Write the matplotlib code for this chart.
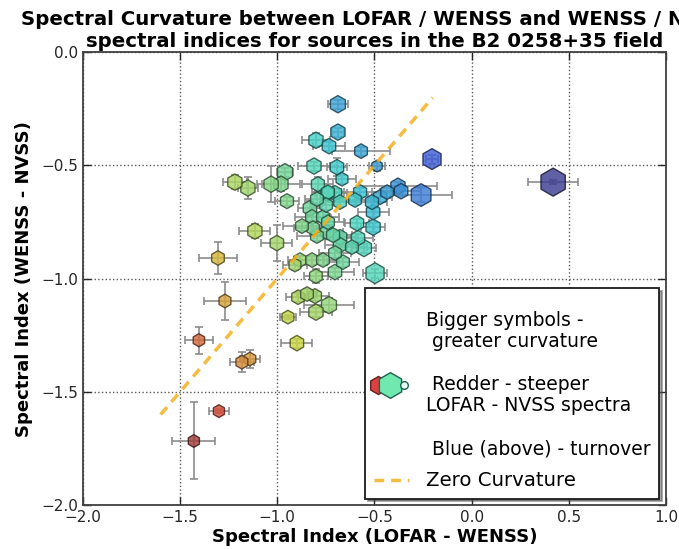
import numpy as np
import matplotlib
matplotlib.use("Agg")
import matplotlib.pyplot as plt
from matplotlib.lines import Line2D
from matplotlib.legend_handler import HandlerBase
from matplotlib.colors import Normalize

# ---- data ----
alpha_lofar_wenss = [
    -0.688, -0.688, -0.801, -0.734, -0.569, -0.487, -0.811, -0.693, -0.667, -0.960,
    -1.218, -1.151, -1.032, -0.981, -0.791, -0.950, -0.796, -0.744, -0.703, -0.749,
    -0.832, -0.821, -0.765, -0.873, -0.816, -0.739, -1.115, -1.002, -0.796, -0.744,
    -0.713, -0.677, -0.677, -0.590, -0.507, -0.507, -0.585, -0.554, -0.662, -0.703,
    -0.497, -0.765, -0.821, -0.883, -0.909, -1.305, -0.801, -1.269, -1.403, -1.182,
    -1.141, -1.300, -1.429, -0.893, -0.847, -0.806, -0.734, -0.801, -0.945, -0.899,
    -0.204, 0.419, -0.260, -0.379, -0.363, -0.435, -0.471, -0.513, -0.574, -0.600,
    -0.677, -0.739, -0.616, -0.703,
]
alpha_wenss_nvss = [
    -0.230, -0.353, -0.389, -0.415, -0.437, -0.503, -0.503, -0.508, -0.561, -0.530,
    -0.574, -0.600, -0.583, -0.583, -0.583, -0.658, -0.649, -0.623, -0.623, -0.675,
    -0.689, -0.728, -0.728, -0.768, -0.777, -0.751, -0.790, -0.843, -0.812, -0.795,
    -0.808, -0.817, -0.852, -0.755, -0.773, -0.706, -0.821, -0.865, -0.927, -0.971,
    -0.976, -0.918, -0.918, -0.918, -0.940, -0.909, -0.989, -1.099, -1.272, -1.369,
    -1.355, -1.585, -1.717, -1.082, -1.068, -1.077, -1.117, -1.148, -1.170, -1.285,
    -0.472, -0.574, -0.631, -0.592, -0.614, -0.618, -0.640, -0.662, -0.618, -0.653,
    -0.662, -0.618, -0.861, -0.887,
]
err_lofar_wenss = [
    0.05, 0.03, 0.07, 0.08, 0.15, 0.04, 0.08, 0.05, 0.07, 0.04,
    0.06, 0.05, 0.07, 0.10, 0.08, 0.06, 0.06, 0.06, 0.06, 0.07,
    0.06, 0.09, 0.08, 0.10, 0.10, 0.08, 0.08, 0.08, 0.10, 0.08,
    0.10, 0.08, 0.08, 0.06, 0.06, 0.08, 0.08, 0.06, 0.08, 0.10,
    0.06, 0.08, 0.06, 0.06, 0.06, 0.10, 0.06, 0.11, 0.07, 0.06,
    0.05, 0.05, 0.11, 0.06, 0.05, 0.07, 0.13, 0.08, 0.04, 0.08,
    0.03, 0.13, 0.16, 0.20, 0.10, 0.08, 0.06, 0.08, 0.10, 0.08,
    0.08, 0.08, 0.08, 0.08,
]
err_wenss_nvss = [
    0.02, 0.02, 0.03, 0.02, 0.02, 0.02, 0.02, 0.04, 0.02, 0.02,
    0.03, 0.05, 0.08, 0.03, 0.03, 0.02, 0.03, 0.02, 0.02, 0.02,
    0.03, 0.02, 0.02, 0.02, 0.03, 0.03, 0.03, 0.08, 0.02, 0.03,
    0.02, 0.02, 0.02, 0.02, 0.02, 0.02, 0.02, 0.02, 0.02, 0.02,
    0.02, 0.02, 0.02, 0.02, 0.02, 0.07, 0.03, 0.085, 0.06, 0.045,
    0.04, 0.01, 0.17, 0.02, 0.02, 0.02, 0.03, 0.02, 0.01, 0.02,
    0.02, 0.01, 0.03, 0.02, 0.02, 0.02, 0.02, 0.02, 0.02, 0.02,
    0.02, 0.02, 0.02, 0.02,
]
# relative curvature
curvature = [
    0.35, 0.30, 0.30, 0.25, 0.20, 0.05, 0.30, 0.25, 0.15, 0.35,
    0.30, 0.30, 0.30, 0.30, 0.22, 0.22, 0.20, 0.25, 0.25, 0.20,
    0.25, 0.22, 0.20, 0.20, 0.20, 0.20, 0.30, 0.25, 0.20, 0.22,
    0.22, 0.25, 0.25, 0.25, 0.30, 0.25, 0.25, 0.35, 0.20, 0.25,
    0.55, 0.20, 0.20, 0.20, 0.15, 0.20, 0.20, 0.15, 0.12, 0.15,
    0.15, 0.10, 0.10, 0.20, 0.20, 0.22, 0.35, 0.30, 0.15, 0.25,
    0.55, 0.95, 0.65, 0.30, 0.25, 0.20, 0.22, 0.22, 0.22, 0.20,
    0.20, 0.20, 0.20, 0.20,
]
zero_line = [-1.6, -0.2]

title = ("Spectral Curvature between LOFAR / WENSS and WENSS / NVSS\n"
         "spectral indices for sources in the B2 0258+35 field")
xlabel = "Spectral Index (LOFAR - WENSS)"
ylabel = "Spectral Index (WENSS - NVSS)"
legend_text = ("Bigger symbols -\n greater curvature\n\n Redder - steeper\n"
               "LOFAR - NVSS spectra\n\n Blue (above) - turnover")
legend_line = "Zero Curvature"

x = np.array(alpha_lofar_wenss)
y = np.array(alpha_wenss_nvss)
xe = np.array(err_lofar_wenss)
ye = np.array(err_wenss_nvss)
curv = np.array(curvature)
# colour: steepness of the overall spectrum (flat = blue, steep = red)
steep = 0.6 * x + 0.4 * y

cmap = plt.get_cmap("jet")
norm = Normalize(vmin=-1.595, vmax=0.057)
tval = (1.0 - np.clip(norm(steep), 0, 1)) ** 1.15
rgb = cmap(tval)[:, :3]
face = 0.6 * rgb + 0.4 * 0.6
edge = face * 0.35

fig = plt.figure(figsize=(6.79, 5.49), dpi=100)
ax = fig.add_axes([0.122, 0.080, 0.859, 0.825])

ax.errorbar(x, y, xerr=xe, yerr=ye, fmt="none", ecolor="0.55",
            elinewidth=1.2, capsize=3, capthick=1.2, zorder=2)
diam_pt = (11 + 18 * curv) * 0.72
order = np.argsort(-curv)
ax.scatter(x[order], y[order], s=diam_pt[order] ** 2, marker="h",
           facecolors=face[order], edgecolors=edge[order], alpha=0.82,
           linewidths=1.0, zorder=3)

zl = np.array(zero_line)
line, = ax.plot(zl, zl, "--", color="#f5b020", lw=2.5, alpha=0.85,
                dashes=(2.8, 2.0), zorder=4)

ax.set_xlim(-2.0, 1.0)
ax.set_ylim(-2.0, 0.0)
ax.set_xticks(np.arange(-2.0, 1.01, 0.5))
ax.set_yticks(np.arange(-2.0, 0.01, 0.5))
ax.grid(True, ls=":", color="0.35", lw=1.0)
ax.tick_params(direction="in", top=True, right=True, length=6,
               labelsize=11, colors="0.15", width=1)
for sp in ax.spines.values():
    sp.set_color("0.25")
    sp.set_linewidth(1.3)

ax.set_title(title, fontsize=14.2, fontweight="bold", pad=4)
ax.set_xlabel(xlabel, fontsize=13, fontweight="bold", labelpad=2)
ax.set_ylabel(ylabel, fontsize=13, fontweight="bold", labelpad=6)


class HexHandle:
    pass


class HexHandler(HandlerBase):
    def create_artists(self, legend, orig_handle, xdescent, ydescent,
                       width, height, fontsize, trans):
        cy = height / 2 - ydescent
        specs = [(0.12, "h", 13, "#dd4040", "#602020"),
                 (0.45, "h", 18.5, "#70e8b0", "#206050"),
                 (0.85, "o", 5.5, "#e8fff4", "#206050")]
        arts = []
        for fx, mk, ms, fc, ec in specs:
            ln = Line2D([fx * width - xdescent], [cy], marker=mk, ms=ms,
                        mfc=fc, mec=ec, ls="none", mew=1.0, transform=trans)
            arts.append(ln)
        return arts


leg = ax.legend([HexHandle(), line], [legend_text, legend_line],
                handler_map={HexHandle: HexHandler()},
                loc="upper left", bbox_to_anchor=(0.484, 0.479),
                borderaxespad=0.0, title=" ", title_fontsize=1,
                fontsize=13.5, frameon=True, fancybox=False, shadow=True,
                handlelength=1.9, handletextpad=0.9, borderpad=0.45,
                labelspacing=0.7)
texts = leg.get_texts()
texts[0].set_linespacing(1.16)
texts[1].set_fontsize(14.2)
leg.get_frame().set_edgecolor("0.1")
leg.get_frame().set_linewidth(1.3)

fig.savefig("out.png", dpi=100)
